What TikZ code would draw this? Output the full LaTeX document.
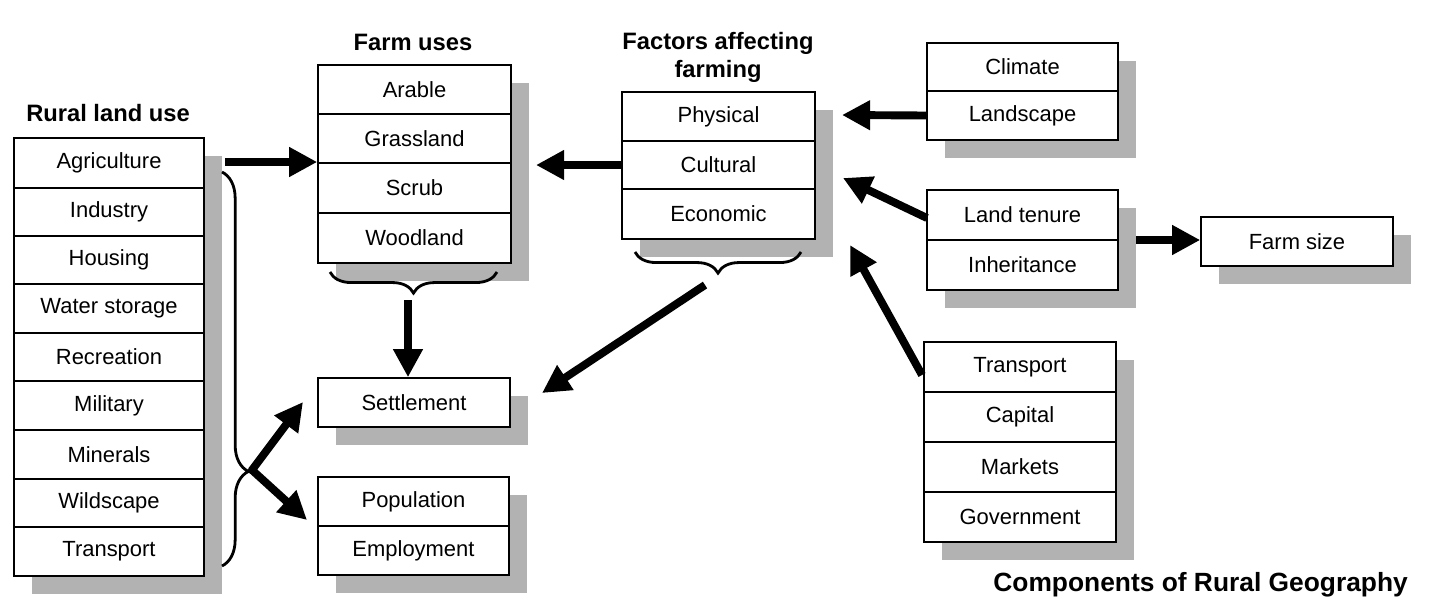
\documentclass[tikz,border=0pt]{standalone}
\usepackage{fontspec}
\setmainfont{Liberation Sans}
\usetikzlibrary{arrows.meta,decorations.pathreplacing}
\begin{document}
\begin{tikzpicture}[x=0.02cm,y=-0.02cm,
  cell/.style={draw,line width=0.9pt,fill=white,inner sep=0,font=\fontsize{12.5}{14}\selectfont},
  shad/.style={fill=black!30,draw=none},
  title/.style={font=\fontsize{13.5}{16}\selectfont\bfseries,align=center},
  arr/.style={line width=4.5pt,-{Triangle[length=16pt,width=16pt]}},
  br/.style={decorate,line width=1.6pt}]
\useasboundingbox (0,0) rectangle (1456,613);
\newcommand{\stack}[4]{\fill[shad] (#1+18,#2+18) rectangle (#3+18,#4+18);}
% shadows
\stack{14}{138}{204}{576}
\stack{318}{65}{511}{263}
\stack{622}{92}{815}{239}
\stack{927}{43}{1118}{140}
\stack{927}{190}{1118}{290}
\stack{1201}{217}{1393}{266}
\stack{924}{342}{1116}{542}
\stack{318}{378}{510}{427}
\stack{318}{477}{509}{575}
% rural land use
\foreach \a/\b/\t/\n in {138/188/Agriculture/agr,188/236/Industry/ind,236/284/Housing/hou,284/333/Water storage/wat,333/381/Recreation/rec,381/430/Military/mil,430/479/Minerals/min,479/527/Wildscape/wil,527/576/Transport/tra}
  \node[cell,minimum width=3.8cm,minimum height={(\b-\a)*0.02cm}] (\n) at (109,{(\a+\b)/2}) {\t};
\node[title] (trl) at (108,113) {Rural land use};
% farm uses
\foreach \a/\b/\t/\n in {65/114/Arable/ara,114/163/Grassland/gra,163/213/Scrub/scr,213/263/Woodland/woo}
  \node[cell,minimum width=3.86cm,minimum height={(\b-\a)*0.02cm}] (\n) at (414.5,{(\a+\b)/2}) {\t};
\node[title] (tfu) at (413,42) {Farm uses};
% factors
\foreach \a/\b/\t/\n in {92/141/Physical/phy,141/189/Cultural/cul,189/239/Economic/eco}
  \node[cell,minimum width=3.86cm,minimum height={(\b-\a)*0.02cm}] (\n) at (718.5,{(\a+\b)/2}) {\t};
\node[title] (tfa) at (718,57) {Factors affecting\\farming};
% right groups
\foreach \a/\b/\t/\n in {43/91/Climate/cli,91/140/Landscape/lan}
  \node[cell,minimum width=3.82cm,minimum height={(\b-\a)*0.02cm}] (\n) at (1022.5,{(\a+\b)/2}) {\t};
\foreach \a/\b/\t/\n in {190/240/Land tenure/ten,240/290/Inheritance/inh}
  \node[cell,minimum width=3.82cm,minimum height={(\b-\a)*0.02cm}] (\n) at (1022.5,{(\a+\b)/2}) {\t};
\node[cell,minimum width=3.84cm,minimum height=0.98cm] (fs) at (1297,241.5) {Farm size};
\foreach \a/\b/\t/\n in {342/392/Transport/trn,392/442/Capital/cap,442/492/Markets/mar,492/542/Government/gov}
  \node[cell,minimum width=3.84cm,minimum height={(\b-\a)*0.02cm}] (\n) at (1020,{(\a+\b)/2}) {\t};
\node[cell,minimum width=3.84cm,minimum height=0.98cm] (set) at (414,402.5) {Settlement};
\foreach \a/\b/\t/\n in {477/526/Population/pop,526/575/Employment/emp}
  \node[cell,minimum width=3.82cm,minimum height={(\b-\a)*0.02cm}] (\n) at (413.5,{(\a+\b)/2}) {\t};
\node[font=\fontsize{15}{18}\selectfont\bfseries,anchor=east] (capt) at (1414,585) {Components of Rural Geography};
% braces
\draw[br,decoration={brace,amplitude=15pt,aspect=0.76}] (222,172) -- (222,566);
\draw[br,decoration={brace,amplitude=12pt,mirror}] (330,272) -- (497,272);
\draw[br,decoration={brace,amplitude=12pt,mirror}] (635,252) -- (801,252);
% arrows
\coordinate (v) at (252,470);
\coordinate (a1) at (225,162);
\coordinate (a2) at (622,165);
\coordinate (a3) at (1136,240);
\coordinate (a4) at (408,300);
\coordinate (a5) at (705,285);
\draw[arr] (a1) -- (a1 -| gra.west);
\draw[arr] (a2) -- (536,165);
\draw[arr] (lan.west) -- (842,115);
\draw[arr] (927,218) -- (843,178);
\draw[arr] (a3) -- (a3 -| fs.west);
\draw[arr] (922,375) -- (850,245);
\draw[arr] (a4) -- (set.north -| a4);
\draw[arr] (a5) -- (542,393);
\draw[arr,line cap=round] (v) -- (303,402);
\draw[arr,line cap=round] (v) -- (307,520);
\end{tikzpicture}
\end{document}
